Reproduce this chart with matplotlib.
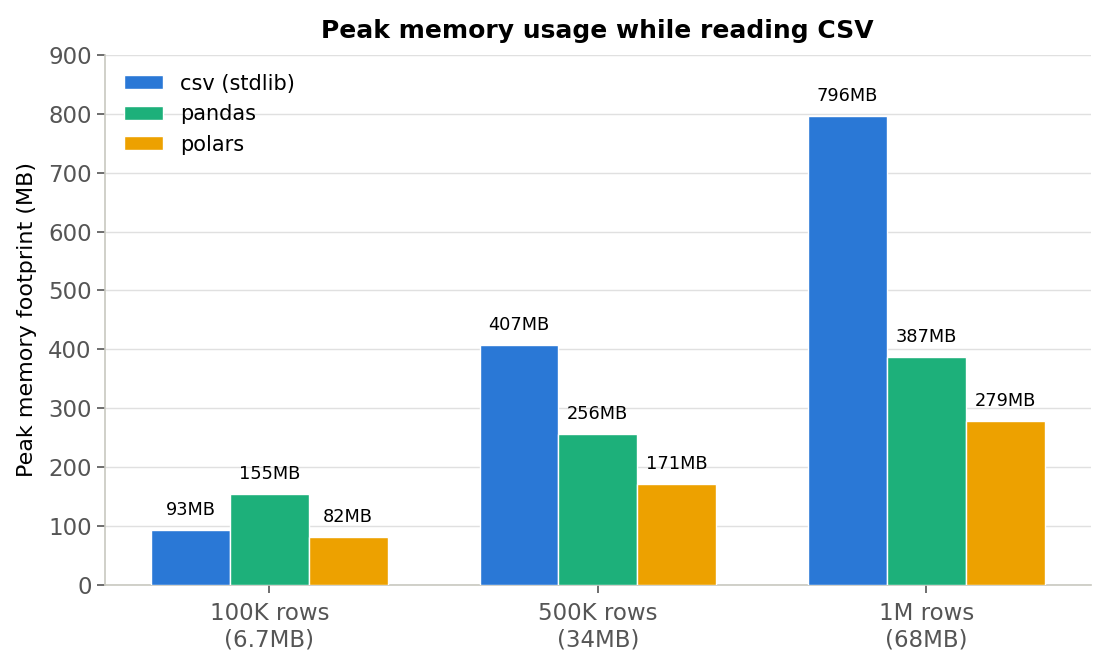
import numpy as np
import matplotlib.pyplot as plt

categories = ['100K rows\n(6.7MB)', '500K rows\n(34MB)', '1M rows\n(68MB)']
csv_stdlib = [93, 407, 796]
pandas_mem = [155, 256, 387]
polars_mem = [82, 171, 279]

series = [('csv (stdlib)', csv_stdlib, '#2a78d6'),
          ('pandas', pandas_mem, '#1db07a'),
          ('polars', polars_mem, '#eda100')]

fig, ax = plt.subplots(figsize=(11.05, 6.7), dpi=100)
fig.subplots_adjust(left=0.095, right=0.987, top=0.918, bottom=0.127)

x = np.arange(len(categories))
width = 0.24
for i, (name, vals, color) in enumerate(series):
    pos = x + (i - 1) * width
    bars = ax.bar(pos, vals, width, color=color, edgecolor='white', linewidth=1, label=name, zorder=3)
    for b, v in zip(bars, vals):
        ax.annotate(f'{v}MB', (b.get_x() + b.get_width() / 2, v), xytext=(0, 8),
                    textcoords='offset points', ha='center', va='bottom', fontsize=12.8)

ax.set_xlim(-0.5, 2.5)
ax.set_ylim(0, 900)
ax.set_yticks(np.arange(0, 901, 100))
ax.set_xticks(x)
ax.set_xticklabels(categories)
ax.grid(axis='y', color='#e0e0e0', linewidth=1, zorder=0)
ax.set_axisbelow(True)
for s in ['top', 'right']:
    ax.spines[s].set_visible(False)
for s in ['left', 'bottom']:
    ax.spines[s].set_color('#c8c8c0')
    ax.spines[s].set_linewidth(1.2)
ax.tick_params(axis='both', colors='#555555', labelsize=16.5, length=6, width=1.2)
ax.tick_params(axis='x', pad=6.5)
ax.set_ylabel('Peak memory footprint (MB)', fontsize=16, labelpad=8)
ax.set_title('Peak memory usage while reading CSV', fontsize=18, fontweight='bold', pad=12)
ax.legend(loc='upper left', frameon=False, fontsize=15, handlelength=1.9, handleheight=0.65,
          labelspacing=0.5, borderaxespad=0.5, handletextpad=0.8)

fig.savefig('out.png', dpi=100)
